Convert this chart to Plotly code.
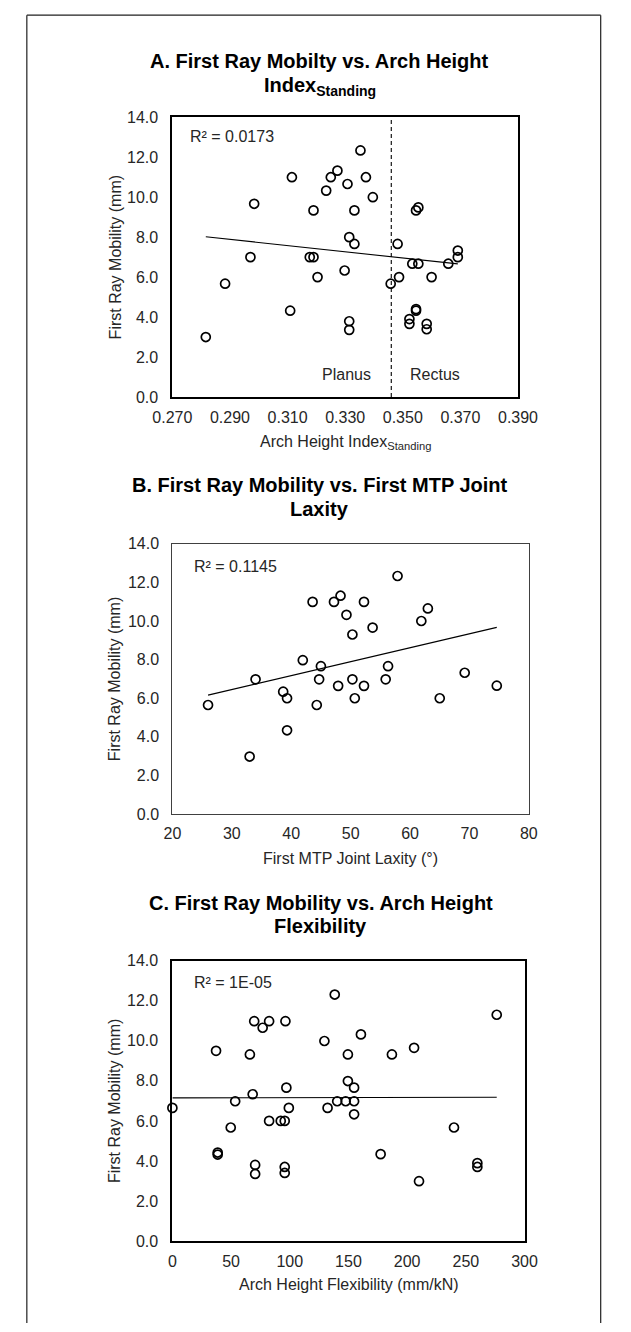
import plotly.graph_objects as go

# ---------------- data ----------------
# Panel A: Arch Height Index (standing) vs First Ray Mobility
ahi_standing = [0.2816, 0.2883, 0.2971, 0.2984, 0.3109, 0.3115, 0.3177, 0.3190, 0.3190, 0.3204,
                0.3234, 0.3250, 0.3273, 0.3298, 0.3308, 0.3314, 0.3332, 0.3332, 0.3314, 0.3314,
                0.3353, 0.3372, 0.3396, 0.3458, 0.3482, 0.3487, 0.3523, 0.3523, 0.3533, 0.3546,
                0.3554, 0.3546, 0.3546, 0.3554, 0.3583, 0.3583, 0.3600, 0.3658, 0.3691, 0.3691]
mobility_a = [3.00, 5.67, 7.00, 9.67, 4.32, 11.00, 7.00, 7.00, 9.34, 6.00,
              10.33, 11.00, 11.33, 6.33, 10.66, 8.00, 7.66, 9.34, 3.79, 3.36,
              12.34, 11.00, 10.00, 5.67, 7.66, 6.00, 3.90, 3.66, 6.67, 9.34,
              9.49, 4.40, 4.32, 6.67, 3.66, 3.39, 6.00, 6.67, 7.33, 7.00]
trend_a_x = [0.2816, 0.3691]
trend_a_y = [8.02, 6.66]
planus_rectus_boundary = 0.346

# Panel B: First MTP joint laxity vs First Ray Mobility
mtp_laxity = [26.0, 33.0, 34.0, 38.65, 39.3, 39.3, 41.95, 43.6, 44.3, 44.7,
              45.0, 47.2, 47.9, 48.3, 49.3, 50.3, 50.3, 50.7, 52.25, 52.25,
              53.7, 55.9, 56.3, 57.9, 61.9, 63.0, 65.0, 69.2, 74.6]
mobility_b = [5.65, 2.98, 6.98, 6.34, 6.00, 4.34, 7.97, 10.99, 5.65, 6.98,
              7.66, 10.99, 6.64, 11.31, 10.32, 9.30, 6.98, 6.00, 10.99, 6.64,
              9.66, 6.98, 7.66, 12.33, 10.00, 10.65, 6.00, 7.32, 6.65]
trend_b_x = [26.0, 74.6]
trend_b_y = [6.16, 9.67]

# Panel C: Arch height flexibility vs First Ray Mobility
ah_flex = [0.0, 37.2, 38.6, 38.6, 49.7, 53.5, 66.0, 68.4, 69.7, 70.5,
           70.5, 76.9, 82.4, 82.4, 92.3, 95.7, 96.3, 97.1, 95.7, 95.7,
           99.2, 129.5, 132.2, 138.3, 140.4, 147.6, 149.5, 149.5, 154.8, 154.8,
           154.8, 160.6, 177.4, 187.0, 205.9, 210.1, 239.9, 259.8, 259.8, 276.3]
mobility_c = [6.65, 9.50, 4.42, 4.32, 5.67, 6.98, 9.32, 7.33, 10.98, 3.80,
              3.35, 10.65, 10.98, 6.00, 6.00, 6.00, 10.98, 7.66, 3.70, 3.40,
              6.65, 9.99, 6.65, 12.31, 6.98, 6.98, 9.32, 7.99, 7.66, 6.98,
              6.33, 10.32, 4.34, 9.32, 9.65, 2.99, 5.67, 3.89, 3.70, 11.30]
trend_c_x = [0.0, 276.3]
trend_c_y = [7.15, 7.18]

r2_labels = ["R² = 0.0173", "R² = 0.1145", "R² = 1E-05"]
y_ticks = [0, 2, 4, 6, 8, 10, 12, 14]
x_ticks_a = [0.27, 0.29, 0.31, 0.33, 0.35, 0.37, 0.39]
x_ticks_b = [20, 30, 40, 50, 60, 70, 80]
x_ticks_c = [0, 50, 100, 150, 200, 250, 300]

# ---------------- layout helpers ----------------
W, H = 631, 1332
FONT = "Liberation Sans, Arial, sans-serif"
TXT = "#262626"

def px(x):
    return x / W

def py(y):
    return 1 - y / H

panels = [
    # (xaxis id, x_px range, y_px range, line width, line color)
    ("x", (162.7, 531.7), (110.7, 394.0), 2.0, "#000000"),
    ("x2", (162.7, 543.3), (542.7, 816.5), 1.2, "#404040"),
    ("x3", (162.7, 538.7), (965.0, 1249.0), 2.0, "#000000"),
]

fig = go.Figure()

marker = dict(symbol="circle-open", size=9, color="#000000", line=dict(width=1.7, color="#000000"))

series = [
    (ahi_standing, mobility_a, trend_a_x, trend_a_y),
    (mtp_laxity, mobility_b, trend_b_x, trend_b_y),
    (ah_flex, mobility_c, trend_c_x, trend_c_y),
]
for i, (xs, ys, tx, ty) in enumerate(series):
    xa = "x" if i == 0 else f"x{i+1}"
    ya = "y" if i == 0 else f"y{i+1}"
    fig.add_trace(go.Scatter(x=tx, y=ty, mode="lines", xaxis=xa, yaxis=ya,
                             line=dict(color="#000000", width=1.1), showlegend=False,
                             hoverinfo="skip"))
    fig.add_trace(go.Scatter(x=xs, y=ys, mode="markers", xaxis=xa, yaxis=ya,
                             marker=marker, showlegend=False, cliponaxis=False))

x_specs = [
    dict(range=[0.27, 0.39], tickvals=x_ticks_a, tickformat=".3f"),
    dict(range=[20, 80], tickvals=x_ticks_b, tickformat="d"),
    dict(range=[0, 300], tickvals=x_ticks_c, tickformat="d"),
]

layout = dict(
    width=W, height=H, margin=dict(l=0, r=0, t=0, b=0),
    paper_bgcolor="white", plot_bgcolor="white",
    font=dict(family=FONT, size=16, color=TXT),
    showlegend=False,
)

for i, (xid, (x0, x1), (y0, y1), lw, lc) in enumerate(panels):
    suffix = "" if i == 0 else str(i + 1)
    yid = "y" + suffix
    layout["xaxis" + suffix] = dict(
        domain=[px(x0), px(x1)], anchor=yid, showgrid=False, zeroline=False,
        showline=True, mirror=True, linewidth=lw, linecolor=lc,
        ticks="outside", ticklen=5, tickcolor="rgba(0,0,0,0)",
        tickfont=dict(size=16, color=TXT, family=FONT), **x_specs[i])
    layout["yaxis" + suffix] = dict(
        domain=[py(y1), py(y0)], anchor=xid, showgrid=False, zeroline=False,
        showline=True, mirror=True, linewidth=lw, linecolor=lc,
        range=[0, 14], tickvals=y_ticks, tickformat=".1f",
        ticks="outside", ticklen=9, tickcolor="rgba(0,0,0,0)",
        tickfont=dict(size=16, color=TXT, family=FONT))

fig.update_layout(**layout)

# dashed Planus / Rectus boundary
fig.add_shape(type="line", xref="x", yref="y", x0=planus_rectus_boundary, x1=planus_rectus_boundary,
              y0=0, y1=14, line=dict(color="#000000", width=1.1, dash="4px,3px"))

ann = []

def text(x, y, s, size=16, xanchor="center", color=TXT, textangle=0):
    ann.append(dict(x=px(x), y=py(y), xref="paper", yref="paper", text=s, showarrow=False,
                    xanchor=xanchor, yanchor="middle", textangle=textangle,
                    font=dict(family=FONT, size=size, color=color)))

# chart titles
text(320, 54, "<b>A. First Ray Mobilty vs. Arch Height</b>", size=20, color="#000000")
text(320, 80, "<b>Index<sub>Standing</sub></b>", size=20, color="#000000")
text(320, 483, "<b>B. First Ray Mobility vs. First MTP Joint</b>", size=20, color="#000000")
text(320, 507, "<b>Laxity</b>", size=20, color="#000000")
text(321, 907, "<b>C. First Ray Mobility vs. Arch Height</b>", size=20, color="#000000")
text(321, 930, "<b>Flexibility</b>", size=20, color="#000000")

# axis titles
text(347, 440, "Arch Height Index<sub>Standing</sub>")
text(353, 861, "First MTP Joint Laxity (°)")
text(351, 1293, "Arch Height Flexibility (mm/kN)")
for (y0, y1) in [(110.7, 394.0), (542.7, 816.5), (965.0, 1249.0)]:
    text(101.7, (y0 + y1) / 2, "First Ray Mobility (mm)", textangle=-90)

# R² labels
text(179.3, 130, r2_labels[0], xanchor="left")
text(183.3, 566, r2_labels[1], xanchor="left")
text(183.3, 987, r2_labels[2], xanchor="left")

# Planus / Rectus
text(349, 371, "Planus")
text(442.7, 371, "Rectus")

fig.update_layout(annotations=ann)

# outer frame of the figure: left, top and right edges (bottom edge runs off the image)
frame = dict(color="#202020", width=1.2)
fig.add_shape(type="line", xref="paper", yref="paper", x0=px(7.3), x1=px(7.3), y0=0, y1=py(7.3),
              line=frame, layer="below")
fig.add_shape(type="line", xref="paper", yref="paper", x0=px(7.3), x1=px(620), y0=py(7.3), y1=py(7.3),
              line=frame, layer="below")
fig.add_shape(type="line", xref="paper", yref="paper", x0=px(620), x1=px(620), y0=0, y1=py(7.3),
              line=frame, layer="below")

# remove the default page margin so the figure sits at the window origin
fig.write_html("out.html",
               config={"displayModeBar": False},
               post_script="document.body.style.margin='0px';document.body.style.overflow='hidden';")
